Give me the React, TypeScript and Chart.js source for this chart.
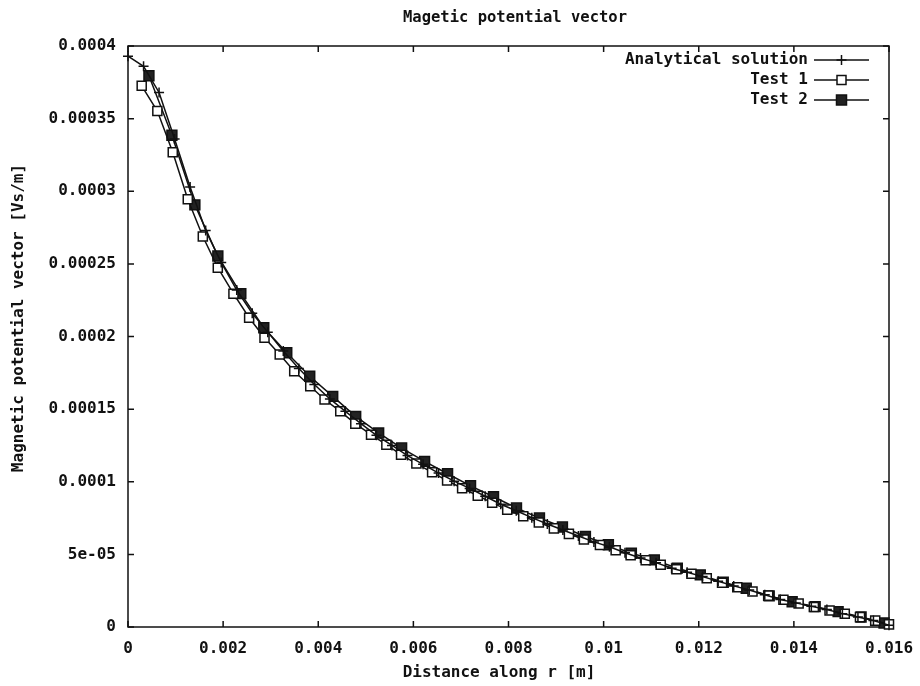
import React, { useEffect, useRef } from 'react';
import { Chart, registerables } from 'chart.js';

Chart.register(...registerables);

const FONT = '"DejaVu Sans Mono", "Liberation Mono", monospace';
const INK = '#111111';

const chartTitle = 'Magetic potential vector';
const xAxisTitle = 'Distance along r [m]';
const yAxisTitle = 'Magnetic potential vector [Vs/m]';
const seriesNames = ['Analytical solution', 'Test 1', 'Test 2'];

const xTickValues = [0, 0.002, 0.004, 0.006, 0.008, 0.01, 0.012, 0.014, 0.016];
const xTickLabels = ['0', '0.002', '0.004', '0.006', '0.008', '0.01', '0.012', '0.014', '0.016'];
const yTickValues = [0, 0.00005, 0.0001, 0.00015, 0.0002, 0.00025, 0.0003, 0.00035, 0.0004];
const yTickLabels = ['0', '5e-05', '0.0001', '0.00015', '0.0002', '0.00025', '0.0003', '0.00035', '0.0004'];

const analyticalR = [
  0, 0.000327, 0.000653, 0.00098, 0.001306, 0.001633, 0.00196, 0.002286, 0.002612, 0.002939,
  0.003265, 0.003592, 0.003918, 0.004245, 0.004571, 0.004898, 0.005224, 0.00555, 0.005877, 0.006204,
  0.00653, 0.006857, 0.007183, 0.00751, 0.007837, 0.008163, 0.00849, 0.008816, 0.009143, 0.00947,
  0.009796, 0.010122, 0.010449, 0.010775, 0.011102, 0.011429, 0.011755, 0.012082, 0.012408, 0.012735,
  0.013061, 0.013388, 0.013714, 0.014041, 0.014367, 0.014694, 0.01502, 0.015347, 0.015673, 0.016,
];
const analyticalA = [
  0.000393, 0.000386, 0.000368, 0.000336, 0.000303, 0.000273, 0.000251, 0.000232, 0.000216, 0.000203,
  0.00019, 0.000178, 0.000167, 0.000157, 0.0001485, 0.00014, 0.000132, 0.000125, 0.000118, 0.000112,
  0.000106, 0.0001004, 0.0000954, 0.00009, 0.0000845, 0.00008, 0.0000753, 0.0000709, 0.0000668, 0.0000627,
  0.0000586, 0.0000552, 0.0000511, 0.0000475, 0.0000443, 0.0000405, 0.0000377, 0.0000347, 0.0000315, 0.0000283,
  0.0000255, 0.0000222, 0.000019, 0.0000166, 0.0000142, 0.000012, 0.0000092, 0.0000069, 0.0000045, 0.0000012,
];

const test1R = [
  0.000288, 0.000617, 0.000941, 0.001257, 0.001573, 0.001888, 0.002217, 0.002547, 0.00287, 0.00319,
  0.003495, 0.003832, 0.004133, 0.004463, 0.004779, 0.00511, 0.005432, 0.005741, 0.006063, 0.006394,
  0.006709, 0.007025, 0.007354, 0.007657, 0.007973, 0.00831, 0.008638, 0.008954, 0.00927, 0.009585,
  0.009922, 0.010253, 0.010568, 0.010884, 0.0112, 0.01153, 0.011846, 0.012168, 0.01249, 0.01281,
  0.01313, 0.01346, 0.01378, 0.0141, 0.01442, 0.01475, 0.01507, 0.01539, 0.01571, 0.016,
];
const test1A = [
  0.0003726, 0.0003552, 0.0003269, 0.0002945, 0.0002688, 0.0002474, 0.0002295, 0.0002129, 0.0001991, 0.0001876,
  0.0001761, 0.0001657, 0.0001566, 0.0001485, 0.00014, 0.0001324, 0.0001255, 0.0001186, 0.0001125, 0.0001065,
  0.0001008, 0.0000955, 0.0000904, 0.0000855, 0.0000808, 0.0000762, 0.0000719, 0.0000679, 0.0000641, 0.0000602,
  0.0000565, 0.0000529, 0.0000494, 0.000046, 0.0000428, 0.0000397, 0.0000366, 0.0000336, 0.0000305, 0.0000274,
  0.0000245, 0.0000216, 0.0000188, 0.0000162, 0.0000138, 0.0000114, 0.0000091, 0.0000068, 0.0000044, 0.0000018,
];

const test2R = [
  0.00044, 0.000923, 0.001406, 0.001889, 0.002372, 0.002855, 0.003338, 0.003821, 0.004304, 0.004787,
  0.00527, 0.005753, 0.006236, 0.006719, 0.007202, 0.007685, 0.008168, 0.008651, 0.009134, 0.009617,
  0.0101, 0.010583, 0.011066, 0.011549, 0.012032, 0.012515, 0.012998, 0.013481, 0.013964, 0.014447,
  0.01493, 0.015413, 0.015896,
];
const test2A = [
  0.0003795, 0.0003386, 0.0002906, 0.0002554, 0.0002295, 0.000206, 0.0001888, 0.0001726, 0.0001588, 0.000145,
  0.0001336, 0.0001232, 0.000114, 0.0001055, 0.0000972, 0.0000897, 0.0000819, 0.000075, 0.0000688, 0.0000623,
  0.0000566, 0.0000508, 0.0000462, 0.0000405, 0.0000359, 0.0000308, 0.0000267, 0.0000214, 0.0000174, 0.000014,
  0.0000106, 0.0000069, 0.0000028,
];

const toPoints = (xs: number[], ys: number[]) => xs.map((x, i) => ({ x, y: ys[i] }));

function drawMarker(ctx: CanvasRenderingContext2D, kind: number, x: number, y: number) {
  ctx.save();
  ctx.lineWidth = 1.5;
  ctx.strokeStyle = INK;
  if (kind === 0) {
    ctx.beginPath();
    ctx.moveTo(x - 5, y);
    ctx.lineTo(x + 5, y);
    ctx.moveTo(x, y - 5);
    ctx.lineTo(x, y + 5);
    ctx.stroke();
  } else if (kind === 1) {
    ctx.fillStyle = '#ffffff';
    ctx.fillRect(x - 4.5, y - 4.5, 9, 9);
    ctx.strokeRect(x - 4.5, y - 4.5, 9, 9);
  } else {
    ctx.fillStyle = '#222222';
    ctx.fillRect(x - 5, y - 5, 10, 10);
    ctx.strokeRect(x - 5, y - 5, 10, 10);
  }
  ctx.restore();
}

const framePlugin = {
  id: 'frame',
  beforeDatasetsDraw(chart: any) {
    const { ctx, chartArea: a, scales } = chart;
    ctx.save();
    ctx.strokeStyle = INK;
    ctx.lineWidth = 1.5;
    ctx.strokeRect(a.left, a.top, a.right - a.left, a.bottom - a.top);
    ctx.beginPath();
    for (const v of xTickValues) {
      const px = scales.x.getPixelForValue(v);
      ctx.moveTo(px, a.bottom);
      ctx.lineTo(px, a.bottom - 6);
      ctx.moveTo(px, a.top);
      ctx.lineTo(px, a.top + 6);
    }
    for (const v of yTickValues) {
      const py = scales.y.getPixelForValue(v);
      ctx.moveTo(a.left, py);
      ctx.lineTo(a.left + 6, py);
      ctx.moveTo(a.right, py);
      ctx.lineTo(a.right - 6, py);
    }
    ctx.stroke();
    ctx.restore();
  },
  afterDraw(chart: any) {
    const { ctx } = chart;
    ctx.save();
    ctx.fillStyle = INK;
    ctx.textAlign = 'center';
    ctx.textBaseline = 'middle';
    ctx.font = `bold 15.5px ${FONT}`;
    ctx.fillText(chartTitle, 515, 18);
    ctx.font = `bold 16px ${FONT}`;
    ctx.fillText(xAxisTitle, 499, 673);
    ctx.save();
    ctx.translate(19, 318);
    ctx.rotate(-Math.PI / 2);
    ctx.fillText(yAxisTitle, 0, 0);
    ctx.restore();
    // legend (gnuplot style: right-aligned text, sample on the right)
    ctx.textAlign = 'right';
    chart.data.datasets.forEach((ds: any, i: number) => {
      const y = 60 + 20 * i;
      ctx.fillStyle = INK;
      ctx.fillText(ds.label, 808, y);
      ctx.strokeStyle = INK;
      ctx.lineWidth = 1.5;
      ctx.beginPath();
      ctx.moveTo(814, y);
      ctx.lineTo(869, y);
      ctx.stroke();
      drawMarker(ctx, i, 841.5, y);
    });
    ctx.restore();
  },
};

export default function App() {
  const ref = useRef<HTMLCanvasElement>(null);
  useEffect(() => {
    if (!ref.current) return;
    const chart = new Chart(ref.current, {
      type: 'scatter',
      data: {
        datasets: [
          {
            label: seriesNames[0],
            data: toPoints(analyticalR, analyticalA),
            showLine: true,
            borderColor: INK,
            borderWidth: 1.5,
            pointStyle: 'cross',
            pointRadius: 5,
            pointBorderWidth: 1.5,
            pointBorderColor: INK,
            clip: false,
          },
          {
            label: seriesNames[1],
            data: toPoints(test1R, test1A),
            showLine: true,
            borderColor: INK,
            borderWidth: 1.5,
            pointStyle: 'rect',
            pointRadius: 6.4,
            pointBorderWidth: 1.5,
            pointBorderColor: INK,
            pointBackgroundColor: '#ffffff',
            clip: false,
          },
          {
            label: seriesNames[2],
            data: toPoints(test2R, test2A),
            showLine: true,
            borderColor: INK,
            borderWidth: 1.5,
            pointStyle: 'rect',
            pointRadius: 7,
            pointBorderWidth: 1.5,
            pointBorderColor: INK,
            pointBackgroundColor: '#222222',
            clip: false,
          },
        ],
      },
      options: {
        animation: false,
        responsive: false,
        devicePixelRatio: 1,
        layout: { padding: { top: 46, right: 31, left: 0, bottom: 0 } },
        plugins: {
          legend: { display: false },
          title: { display: false },
          tooltip: { enabled: false },
        },
        scales: {
          x: {
            type: 'linear',
            min: 0,
            max: 0.016,
            grid: { display: false, drawTicks: false },
            border: { display: false },
            afterBuildTicks: (s: any) => {
              s.ticks = xTickValues.map((value) => ({ value }));
            },
            afterFit: (s: any) => {
              s.height = 59;
              s.paddingLeft = 0;
              s.paddingRight = 0;
            },
            ticks: {
              autoSkip: false,
              maxRotation: 0,
              padding: 12,
              color: INK,
              font: { family: FONT, size: 16, weight: 'bold' },
              callback: (_v: any, i: number) => xTickLabels[i],
            },
          },
          y: {
            type: 'linear',
            min: 0,
            max: 0.0004,
            grid: { display: false, drawTicks: false },
            border: { display: false },
            afterBuildTicks: (s: any) => {
              s.ticks = yTickValues.map((value) => ({ value }));
            },
            afterFit: (s: any) => {
              s.width = 128;
              s.paddingTop = 0;
              s.paddingBottom = 0;
            },
            ticks: {
              autoSkip: false,
              padding: 12,
              color: INK,
              font: { family: FONT, size: 16, weight: 'bold' },
              callback: (_v: any, i: number) => yTickLabels[i],
            },
          },
        },
      } as any,
      plugins: [framePlugin],
    });
    return () => chart.destroy();
  }, []);
  return (
    <div style={{ position: 'fixed', left: 0, top: 0, width: 920, height: 686, background: '#ffffff' }}>
      <canvas ref={ref} width={920} height={686} style={{ display: 'block' }} />
    </div>
  );
}
